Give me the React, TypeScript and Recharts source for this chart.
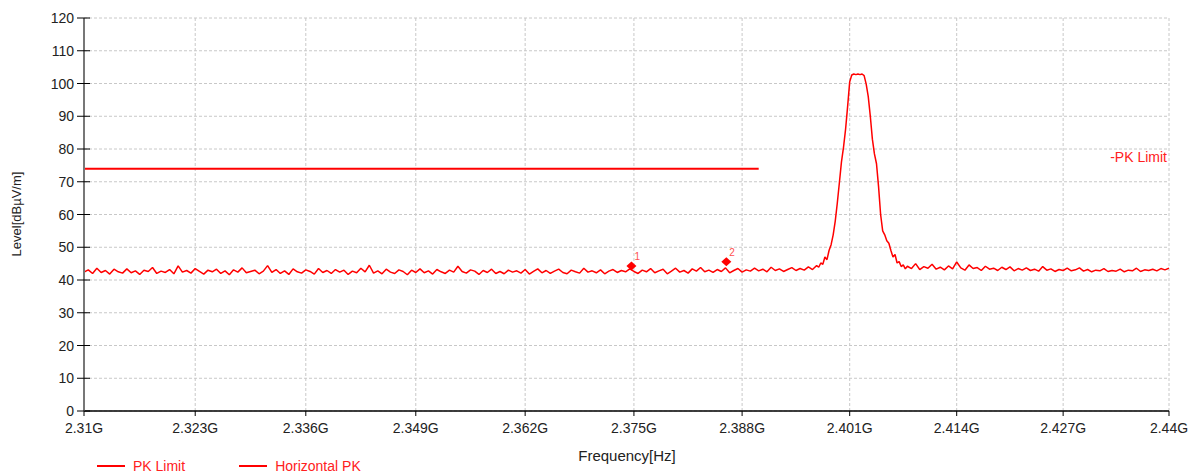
import { ComposedChart, Line, Scatter, XAxis, YAxis, CartesianGrid } from "recharts";

// frequencies in MHz, levels in dBµV/m
const xTicks = [2310, 2323, 2336, 2349, 2362, 2375, 2388, 2401, 2414, 2427, 2440];
const yTicks = [0, 10, 20, 30, 40, 50, 60, 70, 80, 90, 100, 110, 120];

// noise floor 2310.0 .. 2396.5 MHz, one reading every 0.5 MHz
const lowStart = 2310;
const lowLevels = [
  42.4, 43.1, 42.0, 43.6, 42.3, 42.9, 41.8, 43.3, 42.5, 42.1,
  43.4, 42.2, 42.8, 41.7, 43.0, 42.6, 43.8, 42.0, 42.7, 42.3,
  43.2, 41.9, 44.3, 42.4, 42.9, 42.1, 43.5, 42.6, 41.8, 43.0,
  42.5, 43.3, 42.0, 42.8, 41.6, 43.1, 42.4, 43.7, 42.2, 42.6,
  43.0, 41.9, 42.7, 44.4, 42.3, 43.2, 42.0, 42.8, 41.7, 43.4,
  42.5, 42.1, 43.1, 42.6, 41.8, 43.5, 42.3, 42.9, 42.0, 43.2,
  42.4, 43.0, 41.7, 42.7, 42.2, 43.6, 42.5, 44.5, 42.1, 42.8,
  41.9, 43.3, 42.4, 42.0, 43.1, 42.6, 41.6, 43.0, 42.3, 43.4,
  42.2, 42.8, 41.8, 43.2, 42.5, 42.0, 43.0, 42.4, 44.2, 42.6,
  42.1, 43.1, 42.7, 41.7, 42.9, 42.3, 43.3, 42.0, 42.6, 41.9,
  43.0, 42.4, 42.8, 42.1, 43.2, 41.8, 42.6, 43.4, 42.2, 42.9,
  42.0, 42.7, 43.3, 42.3, 41.9, 43.0, 42.5, 42.1, 43.6, 42.4,
  42.8, 42.2, 43.1, 41.9, 42.7, 43.2, 42.3, 42.9, 42.5, 43.4,
  42.6, 42.0, 43.0, 42.5, 43.5, 42.2, 42.8, 43.3, 41.9, 42.7,
  43.6, 42.4, 42.9, 42.1, 43.4, 42.7, 43.8, 42.5, 43.0, 42.3,
  43.2, 42.6, 43.7, 42.2, 42.9, 43.5, 42.4, 43.1, 42.7, 43.6,
  42.8, 43.3, 42.5, 43.9, 42.9, 43.4, 42.6, 43.2, 43.8, 42.9,
  43.5, 43.0, 44.0, 43.2,
];

// carrier, 2396.75 .. 2408.0 MHz every 0.25 MHz
const peakFreqs = [
  2396.75, 2397, 2397.25, 2397.5, 2397.75, 2398, 2398.25, 2398.5, 2398.75, 2399,
  2399.25, 2399.5, 2399.75, 2400, 2400.25, 2400.5, 2400.75, 2401, 2401.25, 2401.5,
  2401.75, 2402, 2402.25, 2402.5, 2402.75, 2403, 2403.25, 2403.5, 2403.75, 2404,
  2404.25, 2404.5, 2404.75, 2405, 2405.25, 2405.5, 2405.75, 2406, 2406.25, 2406.5,
  2406.75, 2407, 2407.25, 2407.5, 2407.75, 2408,
];
const peakLevels = [
  43.8, 44.4, 43.9, 45.2, 44.8, 47.0, 46.2, 49.0, 50.8, 53.8,
  58.0, 63.5, 69.7, 76.0, 80.5, 86.0, 93.0, 100.5, 102.6, 102.9,
  102.7, 102.9, 102.7, 102.9, 102.4, 99.8, 96.0, 90.0, 83.0, 78.5,
  75.5, 68.5, 60.0, 55.0, 53.8, 52.0, 51.2, 49.0, 47.0, 47.8,
  45.2, 45.6, 44.1, 44.6, 43.4, 44.2,
];

// noise floor 2408.5 .. 2440.0 MHz every 0.5 MHz
const highStart = 2408.5;
const highLevels = [
  43.5, 45.0, 43.2, 44.1, 43.6, 44.8, 43.3, 43.9, 43.1, 44.3,
  43.4, 45.5, 43.7, 43.0, 44.6, 43.5, 43.8, 42.9, 44.2, 43.3,
  43.6, 42.9, 43.9, 43.2, 44.0, 42.8, 43.5, 43.0, 43.7, 42.9,
  43.3, 42.7, 44.1, 43.0, 43.4, 42.6, 43.2, 42.9, 43.6, 42.8,
  43.1, 43.7, 42.7, 43.2, 42.5, 43.0, 42.8, 43.5, 42.6, 42.9,
  42.7, 43.3, 42.5, 43.0, 42.8, 43.6, 42.6, 43.1, 42.9, 43.3,
  42.8, 43.5, 43.1, 43.6,
];

const limitFreqs = [2310, 2390];
const limitLevel = 74;

const markerIds = ["1", "2"];
const markerFreqs = [2374.7, 2386.1];
const markerLevels = [44.3, 45.6];

const trace = [
  ...lowLevels.map((level, i) => ({ freq: lowStart + i * 0.5, level })),
  ...peakLevels.map((level, i) => ({ freq: peakFreqs[i], level })),
  ...highLevels.map((level, i) => ({ freq: highStart + i * 0.5, level })),
];
const limitData = limitFreqs.map((freq) => ({ freq, limit: limitLevel }));
const markerData = markerIds.map((id, i) => ({ id, freq: markerFreqs[i], level: markerLevels[i] }));

const RED = "#ff0000";
const FONT = '"Liberation Sans", Arial, sans-serif';

const YTick = (props: any) => {
  const { x, y, payload } = props;
  return (
    <g>
      <line x1={x + 3} x2={x + 16} y1={y} y2={y} stroke="#000" />
      <text x={x} y={y} dy={5} textAnchor="end" fontSize={14} fill="#222" fontFamily={FONT}>
        {payload.value}
      </text>
    </g>
  );
};

const Marker = (props: any) => {
  const { cx, cy, payload } = props;
  return (
    <g>
      <polygon points={`${cx},${cy - 4.5} ${cx + 5},${cy} ${cx},${cy + 4.5} ${cx - 5},${cy}`} fill={RED} />
      <text x={cx + 3} y={cy - 6} fontSize={10} fill="#ff5050" fontFamily={FONT}>
        {payload.id}
      </text>
    </g>
  );
};

export default function App() {
  return (
    <div style={{ position: "absolute", left: 0, top: 0, width: 1189, height: 472, fontFamily: FONT, background: "#fff" }}>
      <ComposedChart width={1189} height={472} margin={{ top: 18, right: 20, bottom: 31, left: 24 }}>
        <CartesianGrid stroke="#c8c8c8" strokeDasharray="3 2" />
        <XAxis
          dataKey="freq"
          type="number"
          scale="log"
          domain={[2310, 2440]}
          ticks={xTicks}
          interval={0}
          height={30}
          tickSize={5}
          tickMargin={7}
          tickFormatter={(v: number) => `${v / 1000}G`}
          tick={{ fontSize: 14, fill: "#222", fontFamily: FONT }}
          axisLine={{ stroke: "#000", strokeWidth: 1.5 }}
          tickLine={{ stroke: "#000" }}
          allowDataOverflow
        />
        <YAxis
          type="number"
          domain={[0, 120]}
          ticks={yTicks}
          interval={0}
          width={60}
          tickSize={7}
          tickMargin={3}
          tick={<YTick />}
          tickLine={false}
          axisLine={{ stroke: "#777", strokeWidth: 2 }}
        />
        <YAxis yAxisId="r" orientation="right" domain={[0, 120]} width={0} tick={false} tickLine={false} axisLine={{ stroke: "#999" }} />
        <Line data={limitData} dataKey="limit" stroke={RED} strokeWidth={2} dot={false} isAnimationActive={false} />
        <Line data={trace} dataKey="level" stroke={RED} strokeWidth={1.5} strokeLinejoin="bevel" dot={false} isAnimationActive={false} />
        <Scatter data={markerData} dataKey="level" shape={<Marker />} isAnimationActive={false} />
      </ComposedChart>

      <div style={{ position: "absolute", right: 22, top: 148, fontSize: 14, color: "#ff2020", lineHeight: "18px" }}>-PK Limit</div>

      <div
        style={{
          position: "absolute",
          left: 16,
          top: 214,
          transform: "translate(-50%, -50%) rotate(-90deg)",
          fontSize: 13,
          color: "#222",
          whiteSpace: "nowrap",
        }}
      >
        Level[dBµV/m]
      </div>

      <div style={{ position: "absolute", left: 627, top: 455, transform: "translate(-50%, -50%)", fontSize: 15, color: "#222", whiteSpace: "nowrap" }}>
        Frequency[Hz]
      </div>

      <div style={{ position: "absolute", left: 97, top: 458, display: "flex", alignItems: "center", fontSize: 14, color: "#ff2020", lineHeight: "16px" }}>
        <span style={{ display: "inline-block", width: 28, height: 2, background: RED, marginRight: 8 }} />
        <span>PK Limit</span>
        <span style={{ display: "inline-block", width: 28, height: 2, background: RED, marginLeft: 54, marginRight: 8 }} />
        <span>Horizontal PK</span>
      </div>
    </div>
  );
}
